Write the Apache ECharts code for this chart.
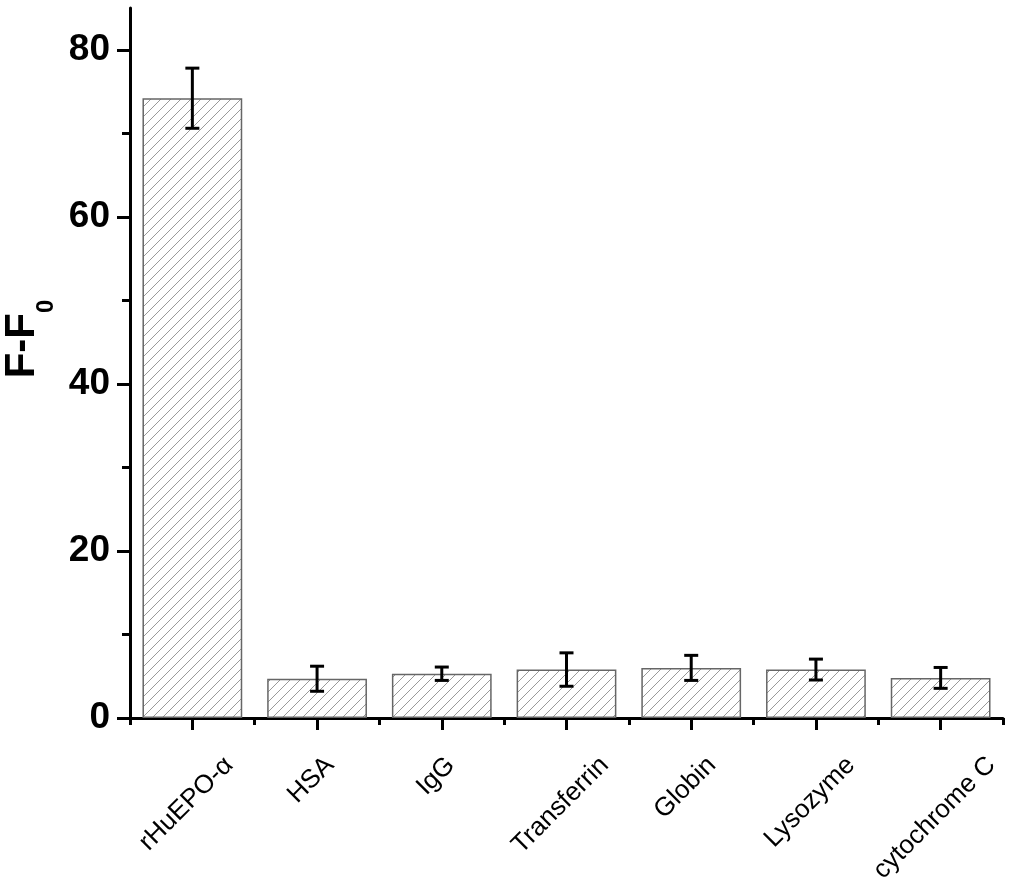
<!DOCTYPE html>
<html>
<head>
<meta charset="utf-8">
<script src="https://cdn.jsdelivr.net/npm/echarts@6/dist/echarts.min.js"></script>
<style>
  html, body { margin: 0; padding: 0; background: #fff; }
  #chart { width: 1024px; height: 880px; }
</style>
</head>
<body>
<div id="chart"></div>
<script>
// data
const categories = ['rHuEPO-\u03b1', 'HSA', 'IgG', 'Transferrin', 'Globin', 'Lysozyme', 'cytochrome C'];
const values = [74.2, 4.7, 5.3, 5.8, 6.0, 5.8, 4.8];
const errors = [3.6, 1.5, 0.8, 2.0, 1.5, 1.25, 1.25];
const yMajorTicks = [0, 20, 40, 60, 80];
const yMinorTicks = [10, 30, 50, 70];

const labelFont = '"Liberation Sans", Arial, sans-serif';
const labelSize = 26;
const labelGap = 34;
const labelShiftLeft = 6;

// diagonal hatch fill like the original plot
function hatchPattern() {
  const c = document.createElement('canvas');
  c.width = 10;
  c.height = 10;
  const ctx = c.getContext('2d');
  ctx.fillStyle = '#fff';
  ctx.fillRect(0, 0, 10, 10);
  ctx.strokeStyle = '#9a9a9a';
  ctx.lineWidth = 1;
  ctx.beginPath();
  ctx.moveTo(-1, 11); ctx.lineTo(11, -1);
  ctx.moveTo(-1, 1); ctx.lineTo(1, -1);
  ctx.moveTo(9, 11); ctx.lineTo(11, 9);
  ctx.stroke();
  return c;
}

// rotated labels hang below the tick, centred on it, top edge on one line.
// item textStyle does not inherit align from axisLabel, so it is set here;
// zrender only honours vertical padding with top/bottom alignment
const measureCtx = document.createElement('canvas').getContext('2d');
measureCtx.font = labelSize + 'px ' + labelFont;
const categoryItems = categories.map(name => {
  const w = measureCtx.measureText(name).width;
  const h = labelSize;
  const s = labelShiftLeft * Math.SQRT1_2;
  return {
    value: name,
    textStyle: {
      align: 'center',
      verticalAlign: 'top',
      padding: [Math.max(0, (w - h) / 4 - s), (w + h) / 2 + 2 * s, 0, 0]
    }
  };
});

const errorData = values.map((v, i) => [i, v - errors[i], v + errors[i]]);

const chart = echarts.init(document.getElementById('chart'));

const option = {
  animation: false,
  backgroundColor: '#fff',
  grid: {
    left: 130,
    right: 21,
    top: 8,
    bottom: 162,
    outerBoundsMode: 'none'
  },
  xAxis: [
    {
      type: 'category',
      position: 'bottom',
      data: categoryItems,
      axisLine: { lineStyle: { color: '#000', width: 3 } },
      axisTick: { show: true, interval: 0, alignWithLabel: true, inside: false, length: 12, lineStyle: { color: '#000', width: 3 } },
      axisLabel: {
        interval: 0,
        rotate: 45,
        margin: labelGap,
        color: '#000',
        fontSize: labelSize,
        fontFamily: labelFont
      },
      splitLine: { show: false }
    },
    {
      type: 'category',
      position: 'bottom',
      data: categories,
      axisLine: { show: false },
      axisTick: { show: true, interval: 0, alignWithLabel: false, length: 7, lineStyle: { color: '#000', width: 3 } },
      axisLabel: { show: false },
      splitLine: { show: false }
    }
  ],
  yAxis: [
    {
      type: 'value',
      position: 'left',
      min: 0,
      max: 85,
      interval: 20,
      name: '{a|F-F}{b|0}',
      nameLocation: 'middle',
      nameGap: 76,
      nameTextStyle: {
        padding: [0, 0, 0, 48],
        rich: {
          a: { fontSize: 42, fontWeight: 'bold', color: '#000', fontFamily: labelFont, lineHeight: 44 },
          b: { fontSize: 24, fontWeight: 'bold', color: '#000', fontFamily: labelFont, lineHeight: 24, padding: [47, 0, 0, 0] }
        }
      },
      axisLine: { show: true, lineStyle: { color: '#000', width: 3 } },
      axisTick: { show: true, length: 13, customValues: yMajorTicks, lineStyle: { color: '#000', width: 3 } },
      axisLabel: {
        customValues: yMajorTicks,
        margin: 20,
        color: '#000',
        fontSize: 37,
        fontWeight: 'bold',
        fontFamily: labelFont
      },
      splitLine: { show: false }
    },
    {
      type: 'value',
      position: 'left',
      min: 0,
      max: 85,
      interval: 10,
      axisLine: { show: false },
      axisTick: { show: true, length: 8, customValues: yMinorTicks, lineStyle: { color: '#000', width: 3 } },
      axisLabel: { show: false },
      splitLine: { show: false }
    }
  ],
  series: [
    {
      type: 'bar',
      xAxisIndex: 0,
      yAxisIndex: 0,
      barWidth: '80%',
      data: values,
      itemStyle: {
        color: { image: hatchPattern(), repeat: 'repeat' },
        borderColor: '#666',
        borderWidth: 1.5
      }
    },
    {
      type: 'custom',
      xAxisIndex: 0,
      yAxisIndex: 0,
      data: errorData,
      z: 10,
      renderItem(params, api) {
        const lo = api.coord([api.value(0), api.value(1)]);
        const hi = api.coord([api.value(0), api.value(2)]);
        const cap = 7;
        const style = { stroke: '#000', lineWidth: 3, fill: null };
        return {
          type: 'group',
          children: [
            { type: 'line', shape: { x1: lo[0], y1: lo[1], x2: hi[0], y2: hi[1] }, style },
            { type: 'line', shape: { x1: hi[0] - cap, y1: hi[1], x2: hi[0] + cap, y2: hi[1] }, style },
            { type: 'line', shape: { x1: lo[0] - cap, y1: lo[1], x2: lo[0] + cap, y2: lo[1] }, style }
          ]
        };
      }
    }
  ]
};

chart.setOption(option);
</script>
</body>
</html>
